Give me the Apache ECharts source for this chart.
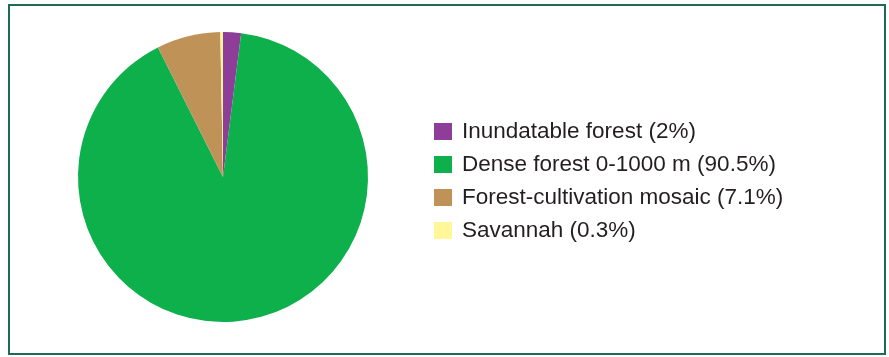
<!DOCTYPE html>
<html>
<head>
<meta charset="utf-8">
<script src="https://cdn.jsdelivr.net/npm/echarts@6/dist/echarts.min.js"></script>
<style>html,body{margin:0;padding:0;background:#fff}#c{width:889px;height:357px}</style>
</head>
<body>
<div id="c"></div>
<script>
const categories = ["Inundatable forest", "Dense forest 0-1000 m", "Forest-cultivation mosaic", "Savannah"];
const values = [2, 90.5, 7.1, 0.3];
const colors = ["#8e3d99", "#0db04b", "#bf9358", "#fff799"];

const chart = echarts.init(document.getElementById('c'));
chart.setOption({
  animation: false,
  color: colors,
  graphic: [{
    type: 'rect',
    shape: { x: 9, y: 5, width: 876, height: 349 },
    style: { fill: 'none', stroke: '#1f6b4f', lineWidth: 2 },
    silent: true
  }],
  legend: {
    orient: 'vertical',
    left: 429,
    top: 115,
    padding: 5,
    itemWidth: 18,
    itemHeight: 17,
    itemGap: 10,
    icon: 'rect',
    selectedMode: false,
    textStyle: { fontFamily: 'Liberation Sans, Arial, sans-serif', fontSize: 22.5, color: '#231f20', padding: [0, 0, 0, 5] },
    formatter: function (name) {
      const i = categories.indexOf(name);
      return name + ' (' + values[i] + '%)';
    }
  },
  series: [{
    type: 'pie',
    center: [223, 177],
    radius: 145,
    startAngle: 90,
    clockwise: true,
    label: { show: false },
    labelLine: { show: false },
    itemStyle: { borderWidth: 0 },
    emphasis: { disabled: true },
    data: categories.map((n, i) => ({ name: n, value: values[i] }))
  }]
});
</script>
</body>
</html>
